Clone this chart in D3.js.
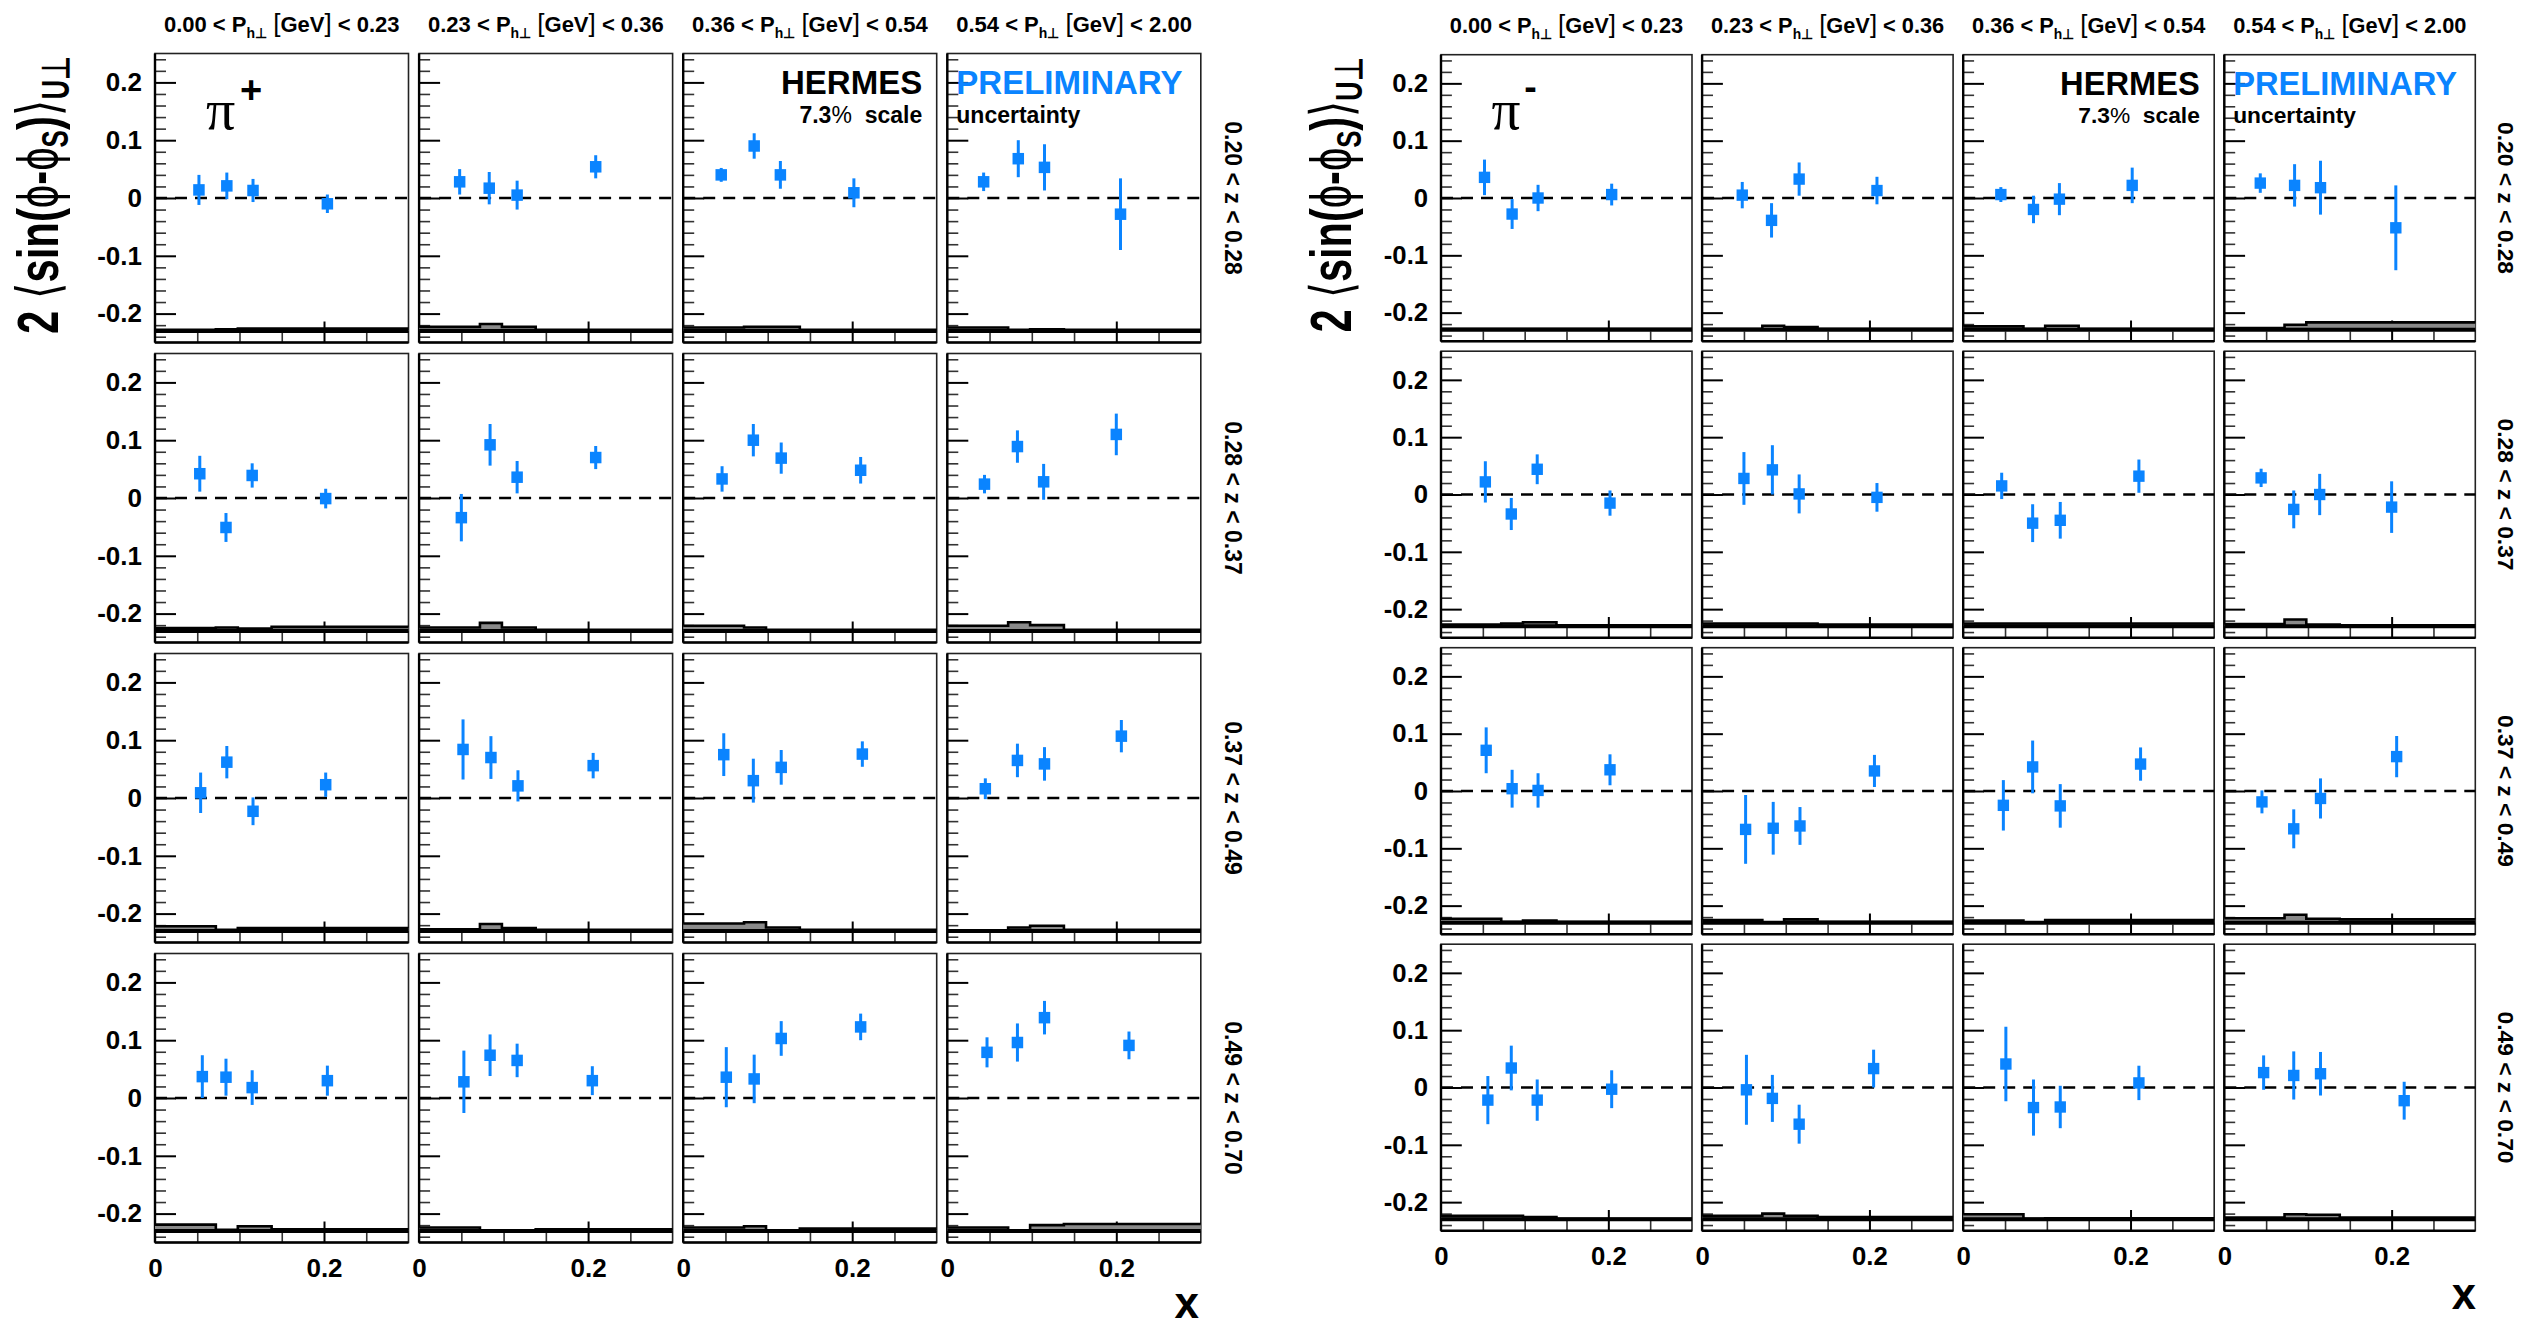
<!DOCTYPE html>
<html>
<head>
<meta charset="utf-8">
<script src="https://cdn.jsdelivr.net/npm/d3@7"></script>
<style>
  html, body { margin: 0; padding: 0; background: #fff; }
  svg { display: block; }
  text { font-family: "Liberation Sans", Arial, Helvetica, sans-serif; font-weight: bold; fill: #000; }
</style>
</head>
<body>
<svg id="chart" width="2545" height="1328"></svg>
<script>
// ---- binning and axis definitions ----
const ptBins = ["0.00", "0.23", "0.36", "0.54", "2.00"];   // P_h⊥ [GeV] column edges
const zBins = ["0.20", "0.28", "0.37", "0.49", "0.70"];    // z row edges
const xBinEdges = [0.0, 0.072, 0.098, 0.138, 0.6];        // x bins of the systematic band
const xDomain = [0, 0.3];
const yDomain = [-0.25, 0.25];
const xTickLabels = [0, 0.2];
const xTicksMinor = [0.05, 0.1, 0.15, 0.25];
const yTicksMajor = [-0.2, -0.1, 0, 0.1, 0.2];
const sysBaseline = -0.23;

// mean x per point: [z row][pT column][x bin]
const xMean = [
  [[0.052, 0.085, 0.116, 0.204], [0.048, 0.083, 0.116, 0.209], [0.045, 0.084, 0.115, 0.202], [0.043, 0.084, 0.115, 0.205]],
  [[0.053, 0.084, 0.115, 0.202], [0.050, 0.084, 0.116, 0.209], [0.046, 0.083, 0.116, 0.210], [0.044, 0.083, 0.114, 0.200]],
  [[0.054, 0.085, 0.116, 0.202], [0.052, 0.085, 0.117, 0.206], [0.048, 0.083, 0.116, 0.212], [0.045, 0.083, 0.115, 0.206]],
  [[0.056, 0.084, 0.115, 0.204], [0.053, 0.084, 0.116, 0.205], [0.051, 0.084, 0.116, 0.210], [0.047, 0.083, 0.115, 0.215]]
];

// pi+ asymmetries: [z row][pT column][x bin]
const piPlusValue = [
  [[0.014, 0.021, 0.013, -0.010], [0.028, 0.017, 0.005, 0.054], [0.040, 0.090, 0.040, 0.009], [0.028, 0.068, 0.053, -0.028]],
  [[0.042, -0.051, 0.039, -0.001], [-0.034, 0.092, 0.036, 0.070], [0.033, 0.100, 0.069, 0.048], [0.024, 0.089, 0.028, 0.110]],
  [[0.009, 0.062, -0.023, 0.023], [0.084, 0.070, 0.021, 0.056], [0.075, 0.030, 0.053, 0.076], [0.016, 0.065, 0.059, 0.107]],
  [[0.037, 0.036, 0.018, 0.030], [0.028, 0.074, 0.065, 0.030], [0.036, 0.033, 0.103, 0.123], [0.079, 0.096, 0.139, 0.091]]
];
const piPlusStat = [
  [[0.026, 0.023, 0.020, 0.016], [0.022, 0.028, 0.025, 0.020], [0.012, 0.022, 0.024, 0.025], [0.016, 0.032, 0.040, 0.062]],
  [[0.031, 0.025, 0.021, 0.017], [0.041, 0.036, 0.028, 0.020], [0.022, 0.028, 0.027, 0.023], [0.016, 0.028, 0.031, 0.036]],
  [[0.035, 0.028, 0.024, 0.021], [0.052, 0.037, 0.027, 0.022], [0.037, 0.038, 0.030, 0.022], [0.018, 0.029, 0.029, 0.028]],
  [[0.037, 0.032, 0.030, 0.026], [0.054, 0.036, 0.029, 0.025], [0.052, 0.042, 0.030, 0.023], [0.026, 0.033, 0.029, 0.024]]
];
const piPlusSys = [
  [[0.002, 0.003, 0.004, 0.004], [0.007, 0.012, 0.007, 0.002], [0.006, 0.007, 0.007, 0.002], [0.006, 0.002, 0.003, 0.002]],
  [[0.005, 0.006, 0.004, 0.007], [0.006, 0.014, 0.006, 0.002], [0.009, 0.006, 0.002, 0.002], [0.009, 0.015, 0.010, 0.002]],
  [[0.008, 0.002, 0.005, 0.005], [0.003, 0.012, 0.005, 0.002], [0.013, 0.015, 0.006, 0.002], [0.001, 0.006, 0.009, 0.002]],
  [[0.011, 0.002, 0.008, 0.003], [0.006, 0.001, 0.001, 0.003], [0.006, 0.008, 0.001, 0.004], [0.006, 0.001, 0.010, 0.012]]
];

// pi- asymmetries: [z row][pT column][x bin]
const piMinusValue = [
  [[0.036, -0.028, 0.000, 0.006], [0.005, -0.039, 0.033, 0.013], [0.006, -0.020, -0.002, 0.022], [0.026, 0.022, 0.018, -0.052]],
  [[0.022, -0.034, 0.044, -0.015], [0.028, 0.043, 0.001, -0.005], [0.015, -0.050, -0.045, 0.032], [0.029, -0.026, 0.000, -0.022]],
  [[0.071, 0.004, 0.001, 0.037], [-0.067, -0.065, -0.061, 0.035], [-0.025, 0.042, -0.026, 0.047], [-0.019, -0.066, -0.013, 0.060]],
  [[-0.022, 0.034, -0.022, -0.003], [-0.004, -0.019, -0.064, 0.033], [0.041, -0.035, -0.034, 0.008], [0.026, 0.021, 0.024, -0.023]]
];
const piMinusStat = [
  [[0.031, 0.026, 0.023, 0.019], [0.023, 0.030, 0.029, 0.024], [0.013, 0.024, 0.028, 0.031], [0.017, 0.037, 0.047, 0.074]],
  [[0.036, 0.028, 0.026, 0.022], [0.046, 0.043, 0.034, 0.025], [0.023, 0.033, 0.032, 0.029], [0.016, 0.033, 0.036, 0.045]],
  [[0.040, 0.033, 0.030, 0.027], [0.060, 0.046, 0.033, 0.028], [0.044, 0.046, 0.038, 0.029], [0.020, 0.034, 0.035, 0.036]],
  [[0.042, 0.039, 0.036, 0.033], [0.061, 0.041, 0.034, 0.033], [0.065, 0.049, 0.037, 0.030], [0.030, 0.042, 0.038, 0.033]]
];
const piMinusSys = [
  [[0.002, 0.002, 0.002, 0.002], [0.002, 0.007, 0.005, 0.002], [0.006, 0.002, 0.007, 0.002], [0.003, 0.009, 0.013, 0.013]],
  [[0.003, 0.005, 0.007, 0.002], [0.005, 0.005, 0.005, 0.003], [0.005, 0.005, 0.005, 0.005], [0.004, 0.012, 0.003, 0.002]],
  [[0.007, 0.002, 0.004, 0.002], [0.005, 0.001, 0.006, 0.002], [0.004, 0.001, 0.005, 0.005], [0.008, 0.014, 0.007, 0.006]],
  [[0.006, 0.006, 0.004, 0.001], [0.006, 0.010, 0.006, 0.004], [0.009, 0.001, 0.002, 0.002], [0.003, 0.009, 0.008, 0.003]]
];

// ---- drawing ----
const BLUE = "#0a84ff";
const svg = d3.select("#chart");
svg.append("rect").attr("width", 2545).attr("height", 1328).attr("fill", "#fff");

const canvases = [
  { ox: 155, oy: 53.5, w: 253.5, h: 289, dx: 264.1, dy: 300, s: 1,
    value: piPlusValue, stat: piPlusStat, sys: piPlusSys, charge: "+",
    titleX: 58, titleY: 195, zLabelX: 1225, xTitle: [1199, 1318] },
  { ox: 1441, oy: 54.7, w: 251, h: 286.6, dx: 261.1, dy: 296.5, s: 0.99,
    value: piMinusValue, stat: piMinusStat, sys: piMinusSys, charge: "-",
    titleX: 1351, titleY: 195, zLabelX: 2498, xTitle: [2476, 1309] }
];

const fmtTick = d => String(Math.round(d * 10) / 10);

function drawPanel(root, cv, r, c) {
  const s = cv.s;
  const g = root.append("g")
    .attr("transform", `translate(${cv.ox + c * cv.dx},${cv.oy + r * cv.dy})`);
  const x = d3.scaleLinear().domain(xDomain).range([0, cv.w]);
  const y = d3.scaleLinear().domain(yDomain).range([cv.h, 0]);

  // frame
  g.append("rect").attr("width", cv.w).attr("height", cv.h)
    .attr("fill", "none").attr("stroke", "#222").attr("stroke-width", 1.6);

  // y ticks (inward), labels on first column only
  const yMinor = d3.range(-0.24, 0.2401, 0.02).map(v => Math.round(v * 100) / 100)
    .filter(v => Math.abs(Math.round(v * 10) / 10 - v) > 1e-6);
  const yMinorAxis = g.append("g").call(d3.axisLeft(y).tickValues(yMinor)
    .tickSizeInner(-11 * s).tickSizeOuter(0).tickFormat(""));
  yMinorAxis.select(".domain").remove();
  yMinorAxis.selectAll("line").attr("stroke", "#333").attr("stroke-width", 1.6);

  const yMajorAxis = g.append("g").call(d3.axisLeft(y).tickValues(yTicksMajor)
    .tickSizeInner(-21 * s).tickSizeOuter(0).tickPadding(13 * s)
    .tickFormat(c === 0 ? fmtTick : ""));
  yMajorAxis.select(".domain").remove();
  yMajorAxis.selectAll("line").attr("stroke", "#000").attr("stroke-width", 2);
  yMajorAxis.attr("font-size", 26 * s).attr("font-family", null);

  // x ticks (inward from the bottom edge)
  const xMinorAxis = g.append("g").attr("transform", `translate(0,${cv.h})`)
    .call(d3.axisBottom(x).tickValues(xTicksMinor).tickSizeInner(-10 * s)
      .tickSizeOuter(0).tickFormat(""));
  xMinorAxis.select(".domain").remove();
  xMinorAxis.selectAll("line").attr("stroke", "#333").attr("stroke-width", 1.6);

  const xMajorAxis = g.append("g").attr("transform", `translate(0,${cv.h})`)
    .call(d3.axisBottom(x).tickValues([0.2]).tickSizeInner(-21 * s)
      .tickSizeOuter(0).tickFormat(""));
  xMajorAxis.select(".domain").remove();
  xMajorAxis.selectAll("line").attr("stroke", "#000").attr("stroke-width", 2);

  if (r === 3) {
    const xLab = g.append("g").attr("transform", `translate(0,${cv.h})`)
      .call(d3.axisBottom(x).tickValues(xTickLabels).tickSize(0)
        .tickPadding(16 * s).tickFormat(fmtTick));
    xLab.select(".domain").remove();
    xLab.attr("font-size", 26 * s).attr("font-family", null);
  }

  // left and bottom axis lines
  g.append("line").attr("x1", 0).attr("x2", 0).attr("y1", 0).attr("y2", cv.h)
    .attr("stroke", "#000").attr("stroke-width", 2.4);
  g.append("line").attr("x1", 0).attr("x2", cv.w).attr("y1", cv.h).attr("y2", cv.h)
    .attr("stroke", "#000").attr("stroke-width", 2.4);

  // systematic band
  const sysVals = cv.sys[r][c];
  const steps = sysVals.map((v, i) => ({ x: xBinEdges[i], v }));
  steps.push({ x: xDomain[1], v: sysVals[sysVals.length - 1] });
  const area = d3.area().curve(d3.curveStepAfter)
    .x(d => x(Math.min(d.x, xDomain[1])))
    .y0(y(sysBaseline)).y1(d => y(sysBaseline + d.v));
  const topLine = d3.line().curve(d3.curveStepAfter)
    .x(d => x(Math.min(d.x, xDomain[1])))
    .y(d => y(sysBaseline + d.v));
  g.append("path").attr("d", area(steps)).attr("fill", "#8a8a8a");
  g.append("path").attr("d", topLine(steps)).attr("fill", "none")
    .attr("stroke", "#000").attr("stroke-width", 2.6);
  g.append("line").attr("x1", 0).attr("x2", cv.w)
    .attr("y1", y(sysBaseline)).attr("y2", y(sysBaseline))
    .attr("stroke", "#000").attr("stroke-width", 4);

  // zero line
  g.append("line").attr("x1", 0).attr("x2", cv.w).attr("y1", y(0)).attr("y2", y(0))
    .attr("stroke", "#000").attr("stroke-width", 2.4).attr("stroke-dasharray", "12,8");

  // data points with statistical error bars
  const pts = cv.value[r][c].map((v, i) => ({ x: xMean[r][c][i], v, e: cv.stat[r][c][i] }));
  const pg = g.append("g");
  pg.selectAll("line.err").data(pts).join("line").attr("class", "err")
    .attr("x1", d => x(d.x)).attr("x2", d => x(d.x))
    .attr("y1", d => y(d.v + d.e)).attr("y2", d => y(d.v - d.e))
    .attr("stroke", BLUE).attr("stroke-width", 3);
  const m = 11.5 * s;
  pg.selectAll("rect.mk").data(pts).join("rect").attr("class", "mk")
    .attr("x", d => x(d.x) - m / 2).attr("y", d => y(d.v) - m / 2)
    .attr("width", m).attr("height", m).attr("fill", BLUE);

  return g;
}

canvases.forEach(cv => {
  const s = cv.s;
  const root = svg.append("g");

  for (let r = 0; r < 4; r++) {
    for (let c = 0; c < 4; c++) {
      const g = drawPanel(root, cv, r, c);
      if (r === 0 && c === 2) {
        g.append("text").attr("x", cv.w - 14.5 * s).attr("y", 40.5 * s)
          .attr("text-anchor", "end").attr("font-size", 33 * s).text("HERMES");
        const t = g.append("text").attr("x", cv.w - 14.5 * s).attr("y", 69 * s)
          .attr("text-anchor", "end").attr("font-size", 23 * s).attr("xml:space", "preserve");
        t.append("tspan").text("7.3");
        t.append("tspan").attr("font-weight", "normal").text("%");
        t.append("tspan").text("  scale");
      }
      if (r === 0 && c === 3) {
        g.append("text").attr("x", 9 * s).attr("y", 40.5 * s)
          .attr("font-size", 33 * s).style("fill", BLUE).text("PRELIMINARY");
        g.append("text").attr("x", 9 * s).attr("y", 69.5 * s)
          .attr("font-size", 23 * s).text("uncertainty");
      }
      if (r === 0 && c === 0) {
        g.append("text").attr("x", 51 * s).attr("y", 75 * s)
          .attr("font-size", 58 * s)
          .style("font-family", "'Liberation Serif', 'Times New Roman', serif")
          .style("font-weight", "normal").text("π");
        g.append("text").attr("x", (cv.charge === "+" ? 85 : 84) * s)
          .attr("y", (cv.charge === "+" ? 49 : 45) * s)
          .attr("font-size", 38 * s).text(cv.charge);
      }
    }
  }

  // column headers
  for (let c = 0; c < 4; c++) {
    const t = root.append("text")
      .attr("x", cv.ox + c * cv.dx + cv.w / 2).attr("y", cv.oy - 21.5 * s)
      .attr("text-anchor", "middle").attr("font-size", 22 * s);
    t.append("tspan").text(`${ptBins[c]} < P`);
    t.append("tspan").attr("font-size", 14 * s).attr("dy", 6 * s).text("h⊥");
    t.append("tspan").attr("dy", -6 * s).text(" ");
    t.append("tspan").attr("font-weight", "normal").attr("font-size", 26 * s).text("[");
    t.append("tspan").text("GeV");
    t.append("tspan").attr("font-weight", "normal").attr("font-size", 26 * s).text("]");
    t.append("tspan").text(` < ${ptBins[c + 1]}`);
  }

  // z bin labels on the right
  for (let r = 0; r < 4; r++) {
    root.append("text")
      .attr("transform", `translate(${cv.zLabelX},${cv.oy + r * cv.dy + cv.h / 2}) rotate(90)`)
      .attr("text-anchor", "middle").attr("font-size", 23 * s)
      .text(`${zBins[r]} < z < ${zBins[r + 1]}`);
  }

  // y-axis title
  const yt = root.append("text")
    .attr("transform", `translate(${cv.titleX},${cv.titleY}) rotate(-90)`)
    .attr("text-anchor", "middle").attr("font-size", 58 * s)
    .attr("textLength", 278 * s).attr("lengthAdjust", "spacingAndGlyphs");
  yt.append("tspan").text("2 ");
  yt.append("tspan").attr("font-weight", "normal").text("⟨");
  yt.append("tspan").text("sin(");
  yt.append("tspan").attr("font-weight", "normal").text("ϕ");
  yt.append("tspan").text("-");
  yt.append("tspan").attr("font-weight", "normal").text("ϕ");
  yt.append("tspan").attr("font-size", 36 * s).attr("dy", 10 * s).text("S");
  yt.append("tspan").attr("dy", -10 * s).text(")");
  yt.append("tspan").attr("font-weight", "normal").text("⟩");
  yt.append("tspan").attr("font-size", 38 * s).attr("dy", 11 * s).text("U⊥");

  // x-axis title
  root.append("text").attr("x", cv.xTitle[0]).attr("y", cv.xTitle[1])
    .attr("text-anchor", "end").attr("font-size", 44 * s).text("x");
});
</script>
</body>
</html>
